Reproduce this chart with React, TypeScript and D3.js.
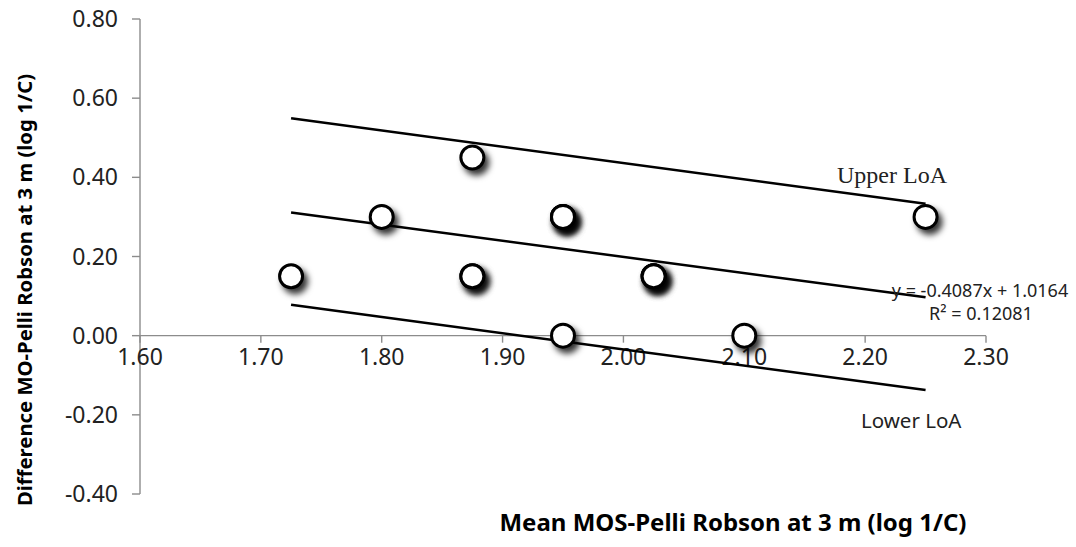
import React from 'react'
import * as d3 from 'd3'

// Bland-Altman style plot: MOS vs Pelli Robson at 3 m
const meanVals = [1.725, 1.80, 1.875, 1.875, 1.875, 1.95, 1.95, 1.95, 1.95, 2.025, 2.025, 2.025, 2.10, 2.25]
const diffVals = [0.15, 0.30, 0.45, 0.15, 0.15, 0.30, 0.30, 0.30, 0.00, 0.15, 0.15, 0.15, 0.00, 0.30]

const lineX = [1.725, 2.25]
const upperLoA = [0.549, 0.333]
const trendY = [0.3114, 0.0968] // y = -0.4087x + 1.0164
const lowerLoA = [0.078, -0.137]

const xTicks = [1.6, 1.7, 1.8, 1.9, 2.0, 2.1, 2.2, 2.3]
const yTicks = [-0.4, -0.2, 0, 0.2, 0.4, 0.6, 0.8]

const width = 1076
const height = 547
const sans = "'Noto Sans', 'Open Sans', sans-serif"
const axisColor = '#8c8c8c'

const App = () => {
  const x = d3.scaleLinear().domain([1.6, 2.3]).range([140, 986])
  const y = d3.scaleLinear().domain([-0.4, 0.8]).range([494, 19])
  const fmt = (v: number) => d3.format('.2f')(v).replace('\u2212', '-')

  const line = d3.line<[number, number]>().x(d => x(d[0])).y(d => y(d[1]))
  const mkLine = (vals: number[]) => line(lineX.map((v, i) => [v, vals[i]] as [number, number])) || ''

  return (
    <svg width={width} height={height} style={{ position: 'absolute', left: 0, top: 0, background: '#fff' }}>
      <defs>
        <filter id="shadow" x="-60%" y="-60%" width="220%" height="220%">
          <feDropShadow dx="4" dy="5" stdDeviation="3" floodColor="#000" floodOpacity="0.8" />
        </filter>
      </defs>

      {/* y axis */}
      <line x1={x(1.6)} x2={x(1.6)} y1={y(0.8)} y2={y(-0.4)} stroke={axisColor} strokeWidth={1.4} />
      {yTicks.map(t => (
        <g key={'yt' + t}>
          <line x1={x(1.6) - 8} x2={x(1.6)} y1={y(t)} y2={y(t)} stroke={axisColor} strokeWidth={1.4} />
          <text x={118} y={y(t)} dy="0.35em" textAnchor="end" fontFamily={sans} fontSize={23} fill="#222">
            {fmt(t)}
          </text>
        </g>
      ))}

      {/* x axis at y = 0 */}
      <line x1={x(1.6)} x2={x(2.3)} y1={y(0)} y2={y(0)} stroke={axisColor} strokeWidth={1.4} />
      {xTicks.map(t => (
        <g key={'xt' + t}>
          <line x1={x(t)} x2={x(t)} y1={y(0)} y2={y(0) + 7} stroke={axisColor} strokeWidth={1.4} />
          <text x={x(t)} y={y(0) + 29} textAnchor="middle" fontFamily={sans} fontSize={23} fill="#222">
            {fmt(t)}
          </text>
        </g>
      ))}

      {/* limits of agreement and trend line */}
      <path d={mkLine(upperLoA)} stroke="#000" strokeWidth={2.5} fill="none" />
      <path d={mkLine(trendY)} stroke="#000" strokeWidth={2.5} fill="none" />
      <path d={mkLine(lowerLoA)} stroke="#000" strokeWidth={2.5} fill="none" />

      {/* points, duplicates stack their shadows */}
      {meanVals.map((m, i) => (
        <circle key={'p' + i} cx={x(m)} cy={y(diffVals[i])} r={11.5} fill="#fff" stroke="#000" strokeWidth={3} filter="url(#shadow)" />
      ))}

      {/* labels */}
      <text x={837} y={183} fontFamily="'Liberation Serif', serif" fontSize={24} fill="#222">Upper LoA</text>
      <text x={861} y={428} fontFamily={sans} fontSize={20.5} fill="#222">Lower LoA</text>
      <text x={980} y={297} textAnchor="middle" fontFamily={sans} fontSize={18} fill="#222">y = -0.4087x + 1.0164</text>
      <text x={981} y={320} textAnchor="middle" fontFamily={sans} fontSize={18} fill="#222">R² = 0.12081</text>

      {/* axis titles */}
      <text transform="translate(32,290) rotate(-90)" textAnchor="middle" fontFamily={sans} fontWeight="bold" fontSize={20.3} fill="#000">
        Difference MO-Pelli Robson at 3 m (log 1/C)
      </text>
      <text x={733} y={531} textAnchor="middle" fontFamily={sans} fontWeight="bold" fontSize={24} fill="#000">
        Mean MOS-Pelli Robson at 3 m (log 1/C)
      </text>
    </svg>
  )
}

export default App
